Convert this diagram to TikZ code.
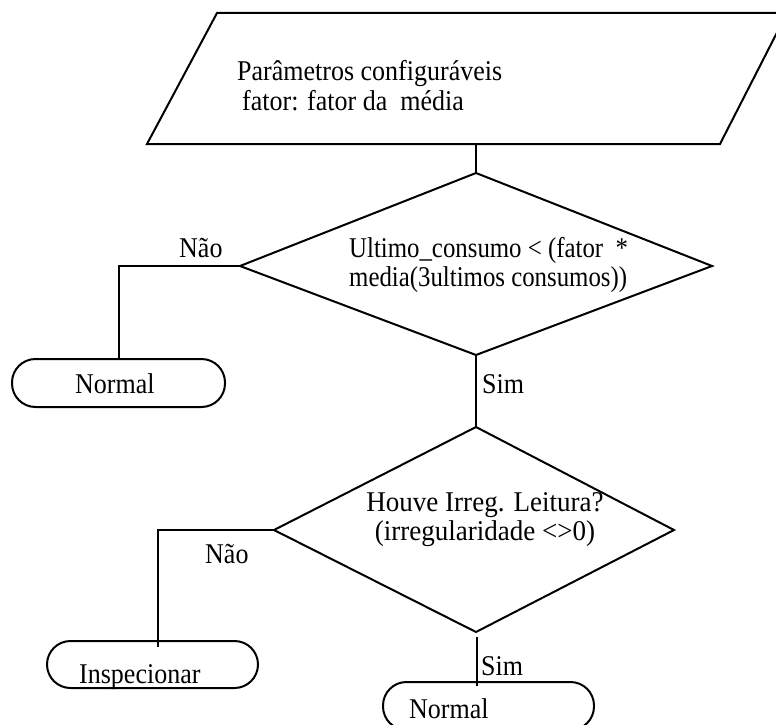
\documentclass[tikz,border=0pt]{standalone}
\usepackage{graphicx}
\usepackage{fontspec}
\setmainfont{Liberation Serif}
% tall, slightly condensed lettering: optional horizontal factor, fixed vertical factor
\newcommand\tallword[2][1]{\scalebox{#1}[1.1]{#2}}
\begin{document}
\begin{tikzpicture}[x=1pt,y=-1pt,
  flow/.style={line width=2pt, line join=miter},
  term/.style={draw, line width=2pt, rounded corners=23.5pt, inner sep=0pt},
  txt/.style={inner sep=0pt, anchor=base west, font=\fontsize{26}{29}\selectfont},
  ctxt/.style={txt, anchor=base},
]
\useasboundingbox (0,0) rectangle (776,725);

% input block (parallelogram)
\coordinate (p1) at (217,13);
\coordinate (p2) at (787,13);
\coordinate (p3) at (720,144);
\coordinate (p4) at (147,144);
\coordinate (pout) at (476,144);
\draw[flow] (p1) -- (p2) -- (p3) -- (p4) -- cycle;
\node[txt] (par1) at (237,81) {\tallword{Parâmetros configuráveis}};
\node[txt] (par2) at (242,110) {\tallword{fator: fator da\ \ média}};

% first decision
\coordinate (d1t) at (476,173);
\coordinate (d1l) at (240,266);
\coordinate (d1r) at (712,266);
\coordinate (d1b) at (476,355);
\draw[flow] (d1t) -- (d1r) -- (d1b) -- (d1l) -- cycle;
\node[txt] (q1a) at (349,257) {\tallword[0.955]{Ultimo\_consumo < (fator\ \ *}};
\node[txt] (q1b) at (349,286) {\tallword[0.955]{media(3ultimos consumos))}};

% second decision
\coordinate (d2t) at (476,427);
\coordinate (d2l) at (274,530);
\coordinate (d2r) at (674,530);
\coordinate (d2b) at (476,632);
\draw[flow] (d2t) -- (d2r) -- (d2b) -- (d2l) -- cycle;
\node[ctxt] (q2a) at (485,511) {\tallword[1.04]{Houve Irreg. Leitura?}};
\node[ctxt] (q2b) at (485,540) {\tallword[1.04]{(irregularidade <>0)}};

% terminals
\node[term, minimum width=213pt, minimum height=48pt] (n1) at (118.5,383) {};
\node[txt] (n1t) at (75,393) {\tallword{Normal}};
\node[term, minimum width=211pt, minimum height=47pt] (insp) at (152.5,664.5) {};
\node[txt] (inspt) at (79,683) {\tallword{Inspecionar}};
\node[term, minimum width=211pt, minimum height=48pt] (n2) at (488.5,706) {};
\node[txt] (n2t) at (409,718) {\tallword{Normal}};

% connectors
\coordinate (inspin) at (158,647);
\coordinate (simtop) at (477,637);
\coordinate (simbot) at (477,686);
\draw[flow] (pout) -- (d1t);
\draw[flow] (d1l) -| (n1.north);
\draw[flow] (d1b) -- (d2t);
\draw[flow] (d2l) -| (inspin);
\draw[flow] (simtop) -- (simbot);

% branch labels
\node[txt] (nao1) at (179,257) {\tallword{Não}};
\node[txt] (sim1) at (482,393) {\tallword{Sim}};
\node[txt] (nao2) at (205,563) {\tallword{Não}};
\node[txt] (sim2) at (481,675) {\tallword{Sim}};
\end{tikzpicture}
\end{document}
